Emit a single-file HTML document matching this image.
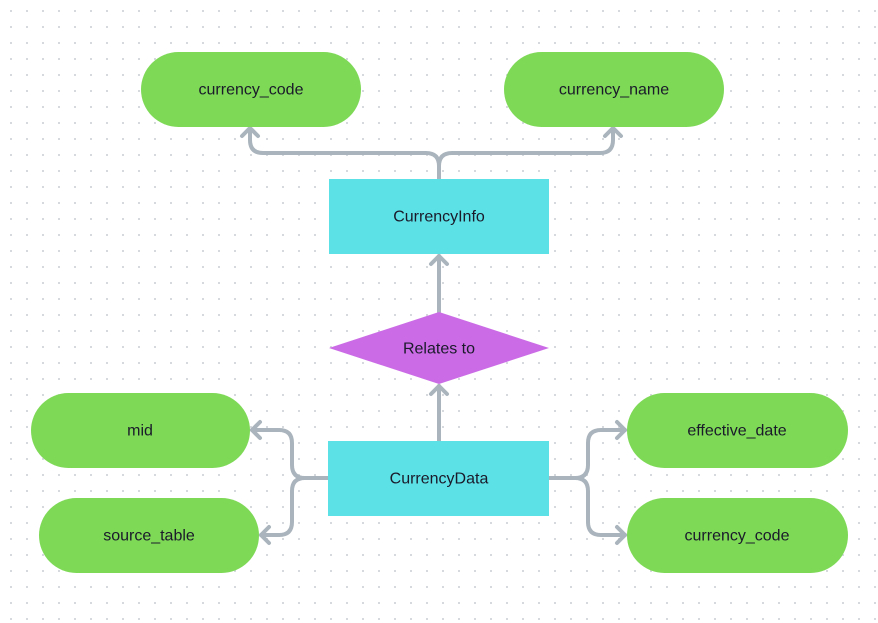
<!DOCTYPE html>
<html><head><style>
html,body{margin:0;padding:0;background:#fff;}
body{width:878px;height:623px;overflow:hidden;position:relative;
background-image:radial-gradient(circle,#d3d6da 1px,transparent 1.2px);background-size:16px 16px;background-position:3px 3px;}
</style></head><body>
<svg width="878" height="623" xmlns="http://www.w3.org/2000/svg" style="position:absolute;left:0;top:0">
<g fill="none" stroke="#aab4bc" stroke-width="4" stroke-linecap="round" stroke-linejoin="round">
<path d="M439 179 V166 Q439 153 426 153 H263 Q250 153 250 140 V129"/>
<path d="M439 166 Q439 153 452 153 H600 Q613 153 613 140 V129"/>
<path d="M242 136 L250 128 L258 136"/>
<path d="M605 136 L613 128 L621 136"/>
<path d="M439 312 V256"/><path d="M431 264 L439 256 L447 264"/>
<path d="M439 441 V386"/><path d="M431 394 L439 386 L447 394"/>
<path d="M328 478 H305 Q292 478 292 465 V443 Q292 430 279 430 H252"/>
<path d="M260 422 L252 430 L260 438"/>
<path d="M305 478 Q292 478 292 491 V522 Q292 535 279 535 H261"/>
<path d="M269 527 L261 535 L269 543"/>
<path d="M549 478 H575 Q588 478 588 465 V443 Q588 430 601 430 H625"/>
<path d="M617 422 L625 430 L617 438"/>
<path d="M575 478 Q588 478 588 491 V522 Q588 535 601 535 H625"/>
<path d="M617 527 L625 535 L617 543"/>
</g>
<g fill="#7ed957">
<rect x="141" y="52" width="220" height="75" rx="37.5"/>
<rect x="504" y="52" width="220" height="75" rx="37.5"/>
<rect x="31" y="393" width="219" height="75" rx="37.5"/>
<rect x="39" y="498" width="220" height="75" rx="37.5"/>
<rect x="627" y="393" width="221" height="75" rx="37.5"/>
<rect x="627" y="498" width="221" height="75" rx="37.5"/>
</g>
<rect x="329" y="179" width="220" height="75" fill="#5ce1e6"/>
<rect x="328" y="441" width="221" height="75" fill="#5ce1e6"/>
<polygon points="329,348 439,312 549,348 439,384" fill="#cb6ce6"/>
<g font-family="Liberation Sans, sans-serif" font-size="16" fill="#1a1a2a" text-anchor="middle" dominant-baseline="central">
<text x="251" y="90">currency_code</text>
<text x="614" y="90">currency_name</text>
<text x="439" y="217">CurrencyInfo</text>
<text x="439" y="349">Relates to</text>
<text x="439" y="479">CurrencyData</text>
<text x="140" y="431">mid</text>
<text x="149" y="536">source_table</text>
<text x="737" y="431">effective_date</text>
<text x="737" y="536">currency_code</text>
</g>
</svg>
</body></html>
